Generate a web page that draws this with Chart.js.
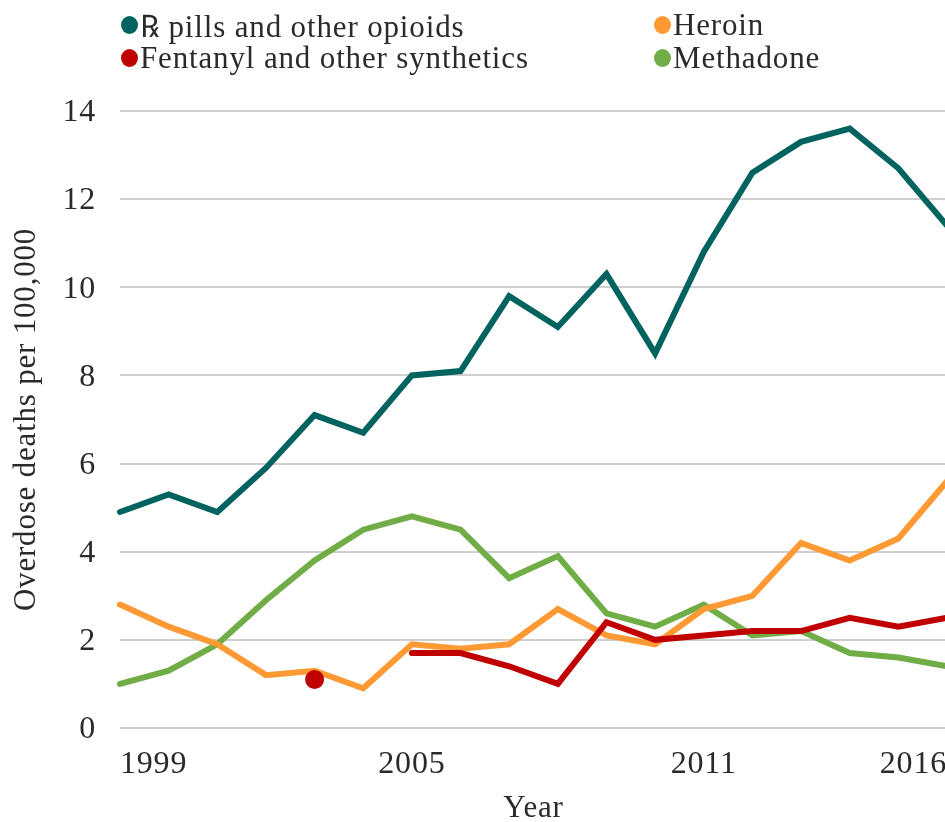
<!DOCTYPE html>
<html>
<head>
<meta charset="utf-8">
<script src="https://cdn.jsdelivr.net/npm/chart.js@4"></script>
<style>
    html, body { margin: 0; padding: 0; background: #fff; width: 945px; height: 822px; overflow: hidden; }
    #wrap { position: relative; width: 956px; height: 822px; }
    #legend { position: absolute; left: 121px; top: 8px; display: grid; grid-template-columns: 533px auto; grid-auto-rows: 33px;
        font: 31px "Liberation Serif", serif; letter-spacing: 0.85px; color: #2a2a2a; }
    #legend div { display: flex; align-items: center; white-space: nowrap; }
    #legend i { width: 17px; height: 18px; border-radius: 50%; margin-right: 2px; }
</style>
</head>
<body>
<div id="wrap">
    <canvas id="chart" width="956" height="822"></canvas>
    <div id="legend"></div>
</div>
<script>
const years = [1999, 2000, 2001, 2002, 2003, 2004, 2005, 2006, 2007, 2008, 2009, 2010, 2011, 2012, 2013, 2014, 2015, 2016];
const shownYears = [1999, 2005, 2011, 2016];
const rxPills = [4.9, 5.3, 4.9, 5.9, 7.1, 6.7, 8.0, 8.1, 9.8, 9.1, 10.3, 8.5, 10.8, 12.6, 13.3, 13.6, 12.7, 11.4];
const heroin = [2.8, 2.3, 1.9, 1.2, 1.3, 0.9, 1.9, 1.8, 1.9, 2.7, 2.1, 1.9, 2.7, 3.0, 4.2, 3.8, 4.3, 5.6];
const fentanyl = [null, null, null, null, 1.1, null, 1.7, 1.7, 1.4, 1.0, 2.4, 2.0, 2.1, 2.2, 2.2, 2.5, 2.3, 2.5];
const methadone = [1.0, 1.3, 1.9, 2.9, 3.8, 4.5, 4.8, 4.5, 3.4, 3.9, 2.6, 2.3, 2.8, 2.1, 2.2, 1.7, 1.6, 1.4];

const FONT = '"Liberation Serif", serif';
const INK = "#2a2a2a";

function line(label, data, color) {
    return { label, data, borderColor: color, backgroundColor: color, borderWidth: 6, borderCapStyle: "round", borderJoinStyle: "miter", tension: 0, pointRadius: 0, spanGaps: false };
}

const datasets = [
    line("℞ pills and other opioids", rxPills, "#00635F"),
    line("Fentanyl and other synthetics", fentanyl, "#C00000"),
    line("Heroin", heroin, "#FF9933"),
    line("Methadone", methadone, "#70AD47")
];
// the 2003 fentanyl value has no neighbours, so it only shows as a dot
datasets[1].pointRadius = fentanyl.map((v, i) => (v !== null && fentanyl[i - 1] === null && fentanyl[i + 1] === null) ? 6.5 : 0);

// legend order in the picture: left column rx + fentanyl, right column heroin + methadone
const legendBox = document.getElementById("legend");
[datasets[0], datasets[2], datasets[1], datasets[3]].forEach(d => {
    const row = document.createElement("div");
    const dot = document.createElement("i");
    dot.style.background = d.borderColor;
    row.appendChild(dot);
    row.appendChild(document.createTextNode(d.label));
    legendBox.appendChild(row);
});

const spacedText = {
    id: "spacedText",
    beforeDraw(chart) { chart.ctx.letterSpacing = "0.8px"; }
};

new Chart(document.getElementById("chart"), {
    type: "line",
    data: { labels: years, datasets },
    plugins: [spacedText],
    options: {
        responsive: false,
        animation: false,
        events: [],
        layout: { padding: { top: 111, right: 0, bottom: 0, left: 8 } },
        plugins: { legend: { display: false }, tooltip: { enabled: false } },
        scales: {
            x: {
                offset: false,
                afterFit: s => { s.height = 94; },
                grid: { display: false },
                border: { display: false },
                title: { display: true, text: "Year", color: INK, font: { family: FONT, size: 31, lineHeight: 1 }, padding: { top: 6, bottom: -2 } },
                ticks: {
                    autoSkip: false, maxRotation: 0, align: "inner", padding: 9, color: INK,
                    font: { family: FONT, size: 32 },
                    callback(v) { const y = this.getLabelForValue(v); return shownYears.includes(y) ? String(y) : ""; }
                }
            },
            y: {
                min: 0, max: 14,
                afterFit: s => { s.width = 112; },
                grid: { color: "#CFCFCF", lineWidth: 2, drawTicks: false },
                border: { display: false },
                title: { display: true, text: "Overdose deaths per 100,000", color: INK, font: { family: FONT, size: 31 }, padding: 0 },
                // the blank first line nudges the digits down onto their gridlines
                ticks: { stepSize: 2, padding: 24, color: INK, font: { family: FONT, size: 32, lineHeight: 0.12 }, callback: v => ["", String(v)] }
            }
        }
    }
});
</script>
</body>
</html>
